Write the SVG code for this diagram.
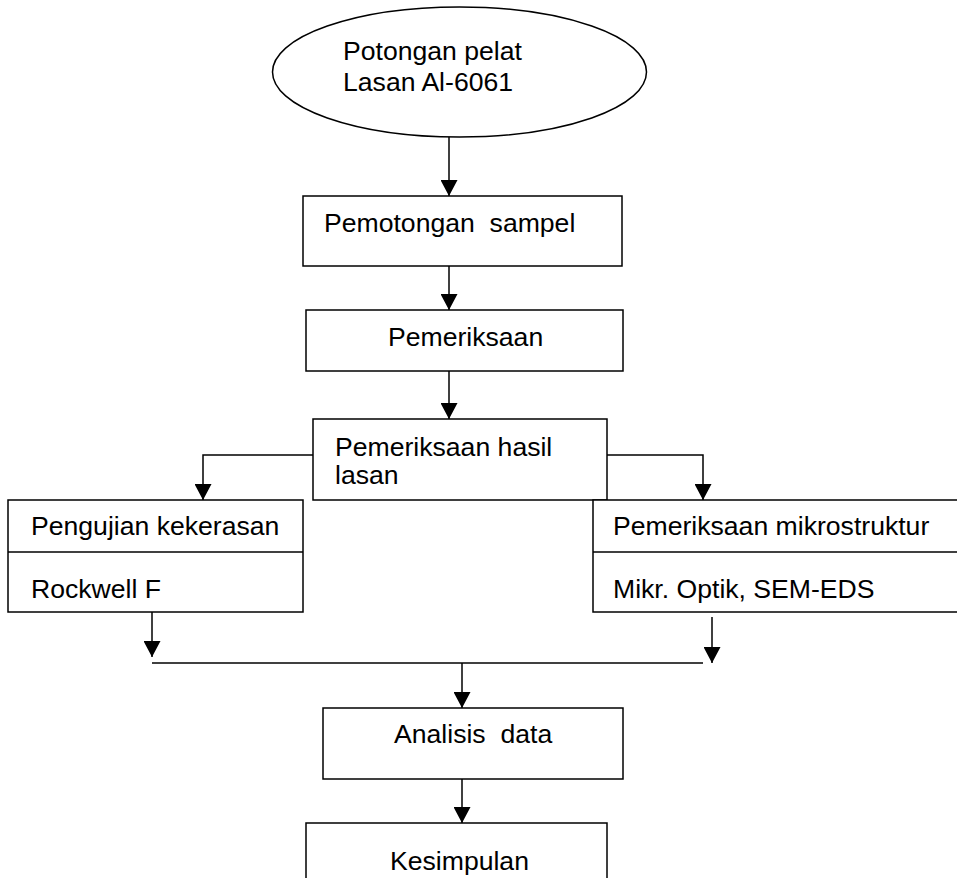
<svg xmlns="http://www.w3.org/2000/svg" width="957" height="878" viewBox="0 0 957 878">
<defs>
<marker id="arr" markerUnits="userSpaceOnUse" markerWidth="17" markerHeight="17" refX="16" refY="8.5" orient="auto">
<path d="M0,0 L16,8.5 L0,17 z" fill="#000"/>
</marker>
<style>
.box{fill:#fff;stroke:#000;stroke-width:1.5}
.ln{fill:none;stroke:#000;stroke-width:1.5}
.t{font-family:"Liberation Sans",Arial,sans-serif;font-size:26.6px;fill:#000;white-space:pre}
</style>
</defs>
<rect width="957" height="878" fill="#fff"/>
<g id="connectors">
<line class="ln" x1="449" y1="137" x2="449" y2="196" marker-end="url(#arr)"/>
<line class="ln" x1="449" y1="266" x2="449" y2="310" marker-end="url(#arr)"/>
<line class="ln" x1="449" y1="371" x2="449" y2="419" marker-end="url(#arr)"/>
<polyline class="ln" points="313,455 203,455 203,500" marker-end="url(#arr)"/>
<polyline class="ln" points="607,455 703,455 703,500" marker-end="url(#arr)"/>
<line class="ln" x1="152" y1="612" x2="152" y2="657" marker-end="url(#arr)"/>
<line class="ln" x1="712" y1="617" x2="712" y2="663" marker-end="url(#arr)"/>
<line class="ln" x1="152" y1="663" x2="703" y2="663"/>
<line class="ln" x1="462" y1="663" x2="462" y2="708" marker-end="url(#arr)"/>
<line class="ln" x1="462" y1="779" x2="462" y2="823" marker-end="url(#arr)"/>
</g>
<g id="start">
<ellipse class="box" cx="459.5" cy="72" rx="187" ry="65"/>
<text class="t" x="343" y="60">Potongan pelat</text>
<text class="t" x="343" y="91">Lasan Al-6061</text>
</g>
<g id="pemotongan">
<rect class="box" x="303" y="196" width="319" height="70"/>
<text class="t" x="324" y="232">Pemotongan  sampel</text>
</g>
<g id="pemeriksaan">
<rect class="box" x="306" y="310" width="317" height="61"/>
<text class="t" x="388" y="346">Pemeriksaan</text>
</g>
<g id="hasil">
<rect class="box" x="313" y="419" width="294" height="81"/>
<text class="t" x="335" y="456">Pemeriksaan hasil</text>
<text class="t" x="335" y="484">lasan</text>
</g>
<g id="kekerasan">
<rect class="box" x="8" y="500" width="295" height="112"/>
<line class="ln" x1="8" y1="552" x2="303" y2="552"/>
<text class="t" x="31" y="535">Pengujian kekerasan</text>
<text class="t" x="31" y="598">Rockwell F</text>
</g>
<g id="mikrostruktur">
<rect class="box" x="593" y="500" width="370" height="112"/>
<line class="ln" x1="593" y1="552" x2="957" y2="552"/>
<text class="t" x="613" y="535">Pemeriksaan mikrostruktur</text>
<text class="t" x="613" y="598">Mikr. Optik, SEM-EDS</text>
</g>
<g id="analisis">
<rect class="box" x="323" y="708" width="300" height="71"/>
<text class="t" x="394" y="743">Analisis  data</text>
</g>
<g id="kesimpulan">
<rect class="box" x="306" y="823" width="301" height="70"/>
<text class="t" x="390" y="870">Kesimpulan</text>
</g>
</svg>
